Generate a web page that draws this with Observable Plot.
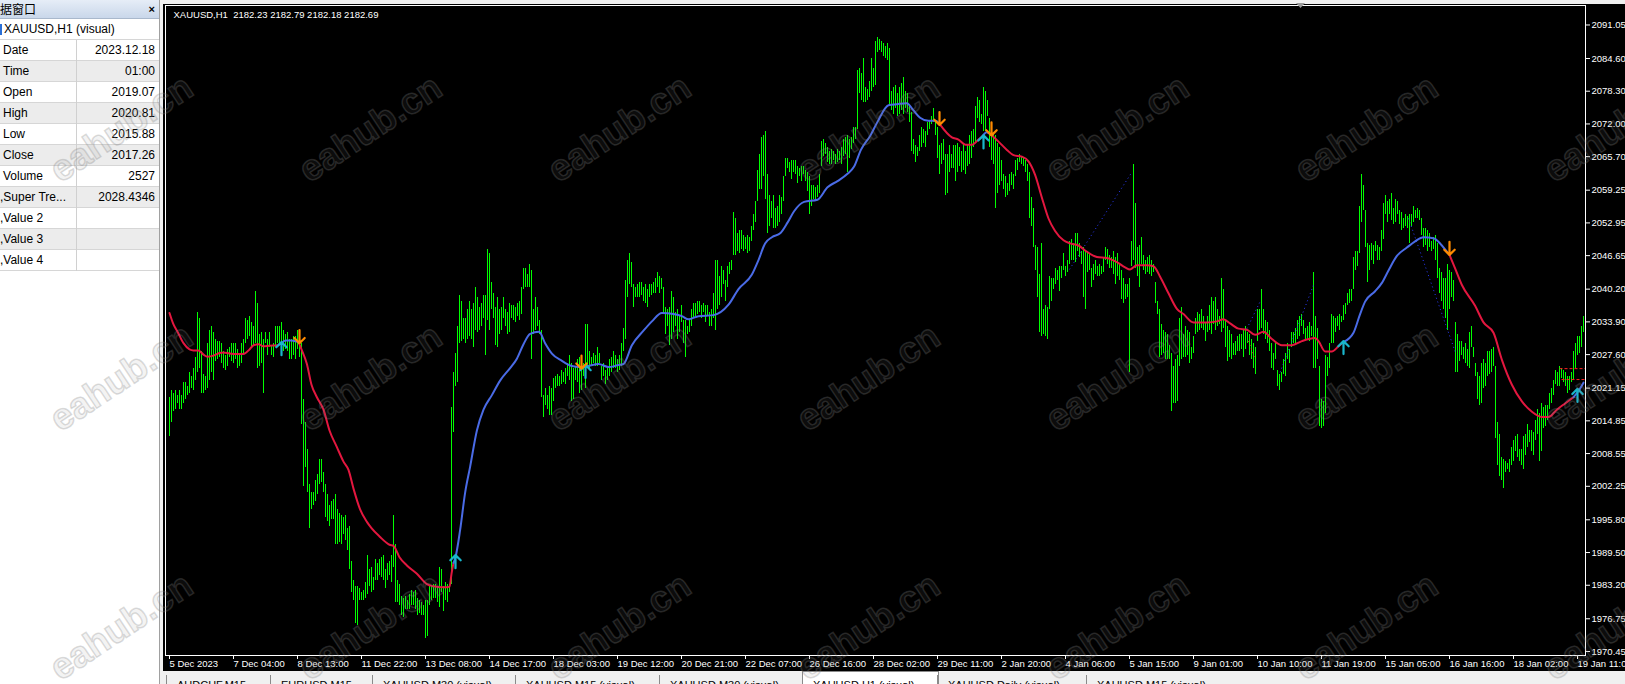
<!DOCTYPE html>
<html><head><meta charset="utf-8">
<script src="https://cdn.jsdelivr.net/npm/d3@7"></script>
<script src="https://cdn.jsdelivr.net/npm/@observablehq/plot@0.6"></script>
<style>
html,body{margin:0;padding:0;width:1625px;height:684px;overflow:hidden;background:#f0f0f0;font-family:"Liberation Sans",Arial,sans-serif;}
#panel{position:absolute;left:0;top:0;width:159px;height:684px;background:#fff;border-right:1px solid #a0a0a0;overflow:hidden;}
#hdr{position:absolute;left:0;top:0;width:159px;height:18px;background:linear-gradient(#e6edf7,#c9d7ea);border-bottom:1px solid #a9b8cc;font-family:"Noto Sans CJK SC",sans-serif;font-size:12px;line-height:18px;color:#000;}
#hdr .x{position:absolute;right:4px;top:0;font-family:"Liberation Sans",Arial;font-weight:bold;font-size:11px;}
.row{position:absolute;left:0;width:159px;height:20px;border-bottom:1px solid #d6d6d6;font-size:12px;line-height:21px;color:#000;}
.row.g{background:#ececec;}
.row .l{position:absolute;left:3px;top:0;white-space:nowrap;}
.row .v{position:absolute;right:4px;top:0;white-space:nowrap;}
.row .sep{position:absolute;left:76px;top:0;width:1px;height:21px;background:#d0d0d0;}
#chart{position:absolute;left:163px;top:4px;}
#tabs{position:absolute;left:160px;top:671px;width:1465px;height:13px;background:#f0f0f0;overflow:hidden;}
.tab{position:absolute;top:4px;height:20px;border-left:1px solid #8a8a8a;font-size:11px;color:#000;white-space:nowrap;overflow:hidden;}
.tab span{position:absolute;left:10px;top:4px;}
.tab.act{top:0;background:#fff;border:1px solid #8a8a8a;border-bottom:none;}
.tab.act span{top:7px;}
#wm{position:absolute;left:0;top:0;pointer-events:none;}
</style></head>
<body>
<div id="panel">
  <div id="hdr">据窗口<span class="x">×</span></div>
  <div id="rows"></div>
</div>
<div id="chart"></div>
<div id="tabs"></div>
<svg id="wm" width="1625" height="684"></svg>
<script>
// ---------- data window panel ----------
const panelTitle = "XAUUSD,H1 (visual)";
const panelLabels = ["Date","Time","Open","High","Low","Close","Volume",",Super Tre...",",Value 2",",Value 3",",Value 4"];
const panelValues = ["2023.12.18","01:00","2019.07","2020.81","2015.88","2017.26","2527","2028.4346","","",""];

// ---------- chart data (hourly bars, index 0 = 5 Dec 2023 00:00) ----------
const high = [
2019.4,2020.6,2020.2,2020.6,2019.8,2020.6,2019.8,2022.2,2022.2,2021.4,
2024.2,2023.4,2025.0,2027.0,2035.8,2034.6,2028.2,2023.8,2023.4,2029.8,
2032.2,2033.0,2031.8,2030.6,2030.2,2030.2,2029.8,2028.2,2027.4,2028.6,
2029.0,2029.8,2029.8,2029.8,2028.6,2027.8,2029.8,2030.6,2034.6,2034.2,
2035.0,2033.8,2033.0,2039.8,2037.4,2031.4,2031.8,2030.6,2031.8,2030.6,
2031.8,2029.4,2029.8,2033.0,2033.0,2033.0,2033.8,2032.2,2031.4,2031.8,
2030.6,2030.6,2031.0,2031.0,2032.2,2031.8,2029.8,2019.0,2014.6,2009.4,
2002.6,2001.0,2001.0,2003.4,2004.6,2007.4,2007.4,2005.0,2002.6,2000.6,
1998.6,1999.4,1999.8,2000.6,1997.8,1997.0,1996.6,1996.2,1996.6,1994.2,
1994.6,1987.8,1984.2,1983.0,1983.0,1982.6,1981.8,1982.2,1983.8,1989.0,
1986.2,1986.6,1984.6,1988.2,1987.4,1988.2,1988.6,1989.0,1986.2,1987.4,
1987.8,1989.0,1996.6,1991.0,1984.2,1983.4,1981.0,1980.6,1981.0,1980.2,
1981.4,1982.2,1981.8,1982.2,1980.6,1980.2,1979.8,1979.4,1980.2,1980.2,
1983.0,1983.0,1983.4,1983.4,1983.0,1986.6,1986.2,1983.0,1983.8,1983.4,
1983.4,2017.4,2024.2,2027.8,2033.0,2039.0,2037.8,2034.6,2034.6,2036.2,
2037.8,2036.2,2037.4,2040.6,2038.6,2036.6,2037.4,2039.0,2039.0,2047.8,
2047.0,2041.4,2039.4,2036.6,2038.6,2036.2,2036.6,2038.6,2036.2,2035.8,
2037.4,2037.0,2037.0,2036.6,2037.4,2037.8,2040.6,2044.2,2044.2,2043.0,
2045.0,2043.8,2036.2,2038.6,2036.6,2034.2,2032.2,2019.8,2021.0,2019.8,
2021.4,2021.0,2023.0,2023.4,2023.8,2023.4,2024.6,2024.2,2025.0,2025.8,
2027.4,2025.8,2025.0,2025.4,2026.6,2027.0,2026.6,2025.8,2033.4,2033.4,
2028.2,2027.0,2027.8,2027.4,2029.0,2027.8,2025.4,2025.8,2024.6,2025.0,
2026.6,2027.0,2028.2,2027.4,2026.6,2027.4,2029.8,2032.6,2041.8,2045.8,
2047.0,2045.4,2041.0,2040.6,2041.0,2041.4,2041.4,2040.6,2041.0,2040.2,
2041.0,2041.0,2041.4,2042.2,2043.4,2042.6,2042.2,2040.6,2036.6,2036.2,
2036.6,2039.8,2038.6,2035.8,2036.2,2035.0,2037.0,2034.2,2034.2,2033.0,
2034.2,2036.2,2037.4,2037.4,2037.8,2037.8,2037.0,2037.4,2037.0,2037.0,
2035.8,2036.2,2039.4,2045.8,2045.8,2042.6,2044.6,2043.8,2041.8,2044.6,
2045.4,2045.8,2055.0,2053.8,2051.0,2051.4,2051.4,2050.6,2050.2,2050.6,
2050.2,2052.2,2054.6,2057.0,2063.0,2066.2,2069.4,2069.8,2070.6,2062.2,
2058.2,2057.0,2058.2,2055.8,2056.2,2058.2,2057.8,2061.8,2065.4,2065.4,
2064.6,2065.0,2065.0,2065.0,2063.8,2063.4,2063.8,2063.8,2063.0,2062.6,
2061.8,2060.2,2060.2,2059.8,2060.2,2062.2,2068.6,2069.0,2068.2,2067.4,
2066.6,2067.0,2066.6,2066.2,2067.0,2066.6,2067.4,2069.0,2069.4,2069.8,
2069.0,2069.4,2071.4,2071.4,2082.2,2082.6,2081.8,2084.6,2079.0,2078.6,
2080.2,2084.6,2082.6,2087.8,2088.6,2088.2,2087.8,2087.4,2087.0,2087.4,
2086.6,2078.2,2079.0,2079.4,2077.8,2079.0,2079.8,2081.0,2078.2,2077.8,
2075.8,2074.2,2069.0,2067.8,2067.4,2069.8,2071.4,2071.0,2070.6,2072.2,
2072.6,2073.4,2075.0,2072.6,2071.4,2067.8,2068.2,2069.0,2066.2,2066.2,
2067.8,2066.2,2067.8,2067.8,2068.2,2067.4,2066.6,2068.2,2066.6,2067.8,
2069.8,2070.6,2071.0,2075.4,2077.0,2076.6,2073.8,2079.0,2078.2,2076.6,
2073.0,2070.6,2070.2,2069.8,2068.2,2067.4,2065.0,2062.2,2061.8,2060.6,
2062.2,2062.6,2062.2,2065.0,2065.4,2066.2,2065.8,2065.4,2065.0,2064.2,
2062.6,2057.8,2055.8,2048.6,2048.2,2043.0,2049.0,2036.2,2037.0,2036.6,
2042.6,2042.2,2042.2,2044.2,2043.8,2044.6,2044.6,2047.0,2044.6,2045.8,
2049.4,2049.8,2049.0,2051.0,2051.0,2049.0,2047.4,2048.2,2047.4,2047.4,
2047.0,2044.2,2045.0,2045.8,2044.6,2045.0,2044.6,2046.2,2048.2,2047.8,
2046.6,2046.2,2047.4,2046.2,2047.0,2045.0,2043.8,2042.2,2041.0,2041.0,
2042.2,2049.4,2064.2,2056.6,2048.2,2048.6,2050.2,2046.6,2045.8,2046.2,
2046.6,2045.8,2045.0,2041.4,2037.8,2036.2,2033.4,2032.2,2031.8,2031.4,
2029.4,2027.8,2025.4,2026.6,2027.4,2034.6,2036.6,2031.4,2033.0,2032.2,
2031.8,2029.0,2031.0,2034.6,2035.8,2035.4,2036.2,2035.0,2033.8,2035.0,
2037.0,2038.6,2037.8,2038.6,2036.2,2035.0,2042.2,2040.2,2034.2,2033.0,
2032.2,2031.4,2029.8,2030.2,2031.0,2031.4,2031.4,2032.2,2033.0,2031.8,
2031.4,2030.6,2029.8,2029.0,2036.2,2036.2,2040.2,2036.2,2034.2,2033.8,
2032.2,2029.8,2027.8,2029.8,2024.6,2023.8,2024.2,2026.6,2027.8,2029.8,
2028.6,2031.8,2031.8,2032.6,2034.2,2035.0,2035.4,2034.2,2032.6,2033.0,
2033.8,2033.0,2043.4,2035.0,2032.6,2025.4,2019.0,2018.6,2027.4,2027.0,
2029.8,2035.4,2035.0,2034.6,2035.0,2035.4,2035.0,2037.0,2037.4,2039.4,
2040.2,2040.2,2046.2,2047.4,2047.4,2056.2,2062.2,2060.2,2055.4,2049.0,
2048.6,2049.0,2048.6,2049.4,2048.6,2048.2,2051.4,2056.6,2058.2,2057.0,
2057.4,2058.6,2055.8,2057.4,2057.0,2055.4,2055.0,2053.8,2054.6,2054.2,
2054.6,2054.6,2056.2,2055.4,2055.8,2055.4,2053.8,2051.8,2051.8,2051.4,
2051.0,2049.4,2050.2,2050.6,2049.0,2044.2,2043.4,2042.2,2042.2,2045.0,
2043.8,2043.4,2041.8,2033.8,2031.4,2030.2,2030.2,2029.0,2029.8,2028.6,
2031.8,2033.0,2029.0,2025.8,2024.2,2023.4,2025.8,2026.6,2025.8,2028.2,
2028.2,2028.6,2029.0,2025.4,2014.6,2012.2,2007.8,2007.4,2007.0,2006.6,
2007.4,2009.8,2011.0,2011.8,2012.2,2009.4,2009.4,2011.8,2012.2,2014.2,
2013.0,2013.0,2012.6,2015.0,2017.0,2016.2,2018.2,2017.4,2017.8,2017.8,
2020.2,2021.0,2022.6,2024.6,2024.2,2025.4,2025.0,2024.6,2024.2,2023.4,
2023.4,2024.2,2028.2,2029.8,2031.0,2031.0,2033.0,2035.0];
const low = [
2011.8,2014.6,2016.6,2017.0,2018.2,2017.0,2017.0,2018.2,2019.0,2019.8,
2020.2,2021.0,2020.6,2022.6,2024.2,2025.0,2020.2,2020.2,2020.6,2021.0,
2022.6,2024.2,2022.6,2026.2,2026.6,2027.0,2025.8,2025.0,2024.6,2025.4,
2027.0,2026.2,2025.8,2026.6,2025.0,2025.4,2025.8,2027.4,2029.8,2030.6,
2031.0,2029.0,2029.4,2029.8,2025.0,2025.4,2025.8,2020.2,2029.8,2027.4,
2029.0,2027.4,2027.0,2029.0,2029.8,2029.8,2029.8,2028.2,2028.6,2028.2,
2026.6,2026.6,2027.4,2026.6,2028.6,2027.0,2014.2,2002.2,2005.8,2001.0,
1994.2,1997.8,1998.6,1999.4,2000.6,2002.6,2003.0,2001.0,1996.2,1995.4,
1994.6,1995.8,1995.8,1991.0,1991.0,1991.4,1991.0,1993.0,1991.8,1989.8,
1986.2,1981.8,1980.2,1975.8,1975.4,1980.2,1980.2,1980.2,1980.6,1981.4,
1983.0,1981.8,1982.2,1984.2,1984.2,1985.0,1984.6,1984.2,1982.6,1984.2,
1985.0,1983.8,1986.6,1979.8,1979.8,1979.4,1977.4,1977.0,1978.6,1978.6,
1978.6,1979.4,1979.4,1978.6,1977.4,1977.8,1977.4,1977.4,1973.0,1973.4,
1979.4,1980.2,1980.6,1980.6,1979.8,1979.0,1981.8,1978.2,1980.2,1979.8,
1981.8,1983.4,2012.6,2021.4,2022.2,2029.8,2030.2,2030.6,2029.8,2030.6,
2031.0,2030.6,2029.0,2032.2,2031.8,2032.2,2033.0,2034.6,2027.4,2034.2,
2032.2,2036.2,2034.6,2029.4,2029.0,2031.4,2032.2,2034.6,2033.0,2031.4,
2031.8,2034.6,2034.2,2033.8,2035.0,2034.2,2035.4,2040.2,2040.6,2040.6,
2040.6,2026.6,2031.4,2032.2,2033.0,2031.4,2019.4,2015.4,2017.8,2017.0,
2015.8,2015.8,2018.6,2021.0,2021.4,2021.4,2021.8,2022.2,2021.8,2023.4,
2022.6,2018.6,2019.0,2022.6,2022.2,2020.2,2020.6,2023.4,2021.0,2025.0,
2025.0,2025.4,2025.8,2025.4,2025.4,2025.8,2022.6,2023.4,2021.8,2022.6,
2023.4,2024.2,2025.0,2025.0,2024.2,2024.6,2025.4,2028.2,2030.6,2038.6,
2041.0,2040.6,2036.6,2038.6,2038.6,2038.6,2039.0,2037.8,2037.4,2036.6,
2038.6,2039.0,2039.4,2039.4,2040.6,2039.4,2040.2,2035.4,2031.4,2033.0,
2029.4,2030.6,2031.8,2033.0,2030.6,2031.8,2033.8,2029.8,2027.0,2031.4,
2031.8,2033.0,2034.6,2035.0,2035.4,2035.8,2034.6,2035.8,2033.8,2035.0,
2033.0,2033.0,2034.6,2032.2,2036.2,2037.0,2038.6,2041.0,2037.8,2040.6,
2043.0,2043.8,2046.6,2046.6,2047.4,2047.0,2047.8,2047.4,2047.8,2047.0,
2047.4,2049.4,2051.4,2053.0,2057.0,2059.4,2059.4,2061.8,2057.4,2051.0,
2052.2,2053.8,2051.8,2051.8,2052.2,2053.0,2054.6,2057.0,2061.8,2063.4,
2062.6,2061.4,2062.6,2062.2,2060.6,2061.8,2061.0,2062.2,2061.0,2059.0,
2054.6,2056.2,2057.4,2057.0,2057.8,2058.6,2063.8,2065.8,2066.2,2064.6,
2064.2,2064.2,2065.0,2064.2,2064.6,2065.0,2064.2,2065.8,2066.2,2062.6,
2065.4,2067.0,2068.2,2069.0,2071.0,2077.8,2076.6,2076.2,2076.2,2076.6,
2077.0,2078.2,2079.0,2079.4,2085.8,2086.2,2085.8,2085.0,2084.6,2084.2,
2075.8,2074.6,2073.8,2075.0,2073.4,2073.8,2074.6,2073.8,2075.0,2074.2,
2072.2,2066.6,2066.2,2064.6,2065.8,2066.6,2067.4,2068.2,2067.4,2069.8,
2071.0,2071.8,2072.2,2069.8,2065.4,2062.2,2064.2,2065.0,2058.2,2058.6,
2062.6,2063.4,2063.4,2061.0,2062.6,2063.8,2062.6,2063.0,2062.2,2063.8,
2064.2,2065.4,2067.4,2068.2,2073.0,2072.2,2071.8,2070.6,2070.6,2073.4,
2067.4,2065.0,2064.2,2055.8,2058.6,2060.2,2061.0,2059.4,2057.8,2058.2,
2059.0,2060.2,2059.4,2061.8,2063.0,2064.6,2064.2,2063.8,2062.6,2061.0,
2053.8,2052.2,2048.2,2043.8,2038.6,2031.8,2031.0,2031.4,2031.0,2030.6,
2036.2,2037.8,2040.2,2041.0,2041.8,2039.8,2042.2,2043.8,2042.6,2043.4,
2045.0,2045.8,2045.8,2045.4,2047.4,2046.2,2045.0,2038.6,2036.2,2043.4,
2043.8,2040.6,2041.8,2043.0,2042.6,2042.6,2043.0,2043.4,2045.8,2045.0,
2044.2,2044.2,2043.0,2041.0,2042.6,2041.8,2038.2,2037.4,2038.2,2038.6,
2024.2,2044.6,2045.8,2044.2,2042.6,2040.6,2045.0,2043.8,2043.0,2043.4,
2043.0,2042.6,2043.4,2037.4,2035.4,2027.0,2027.4,2027.8,2026.6,2026.6,
2026.6,2016.6,2018.2,2018.2,2018.6,2025.4,2026.6,2027.0,2027.0,2027.4,
2025.8,2026.6,2027.8,2031.4,2031.8,2032.2,2032.6,2032.2,2030.2,2031.8,
2032.2,2031.4,2033.4,2032.2,2033.0,2033.4,2031.8,2032.6,2029.0,2026.2,
2027.0,2026.6,2027.4,2027.4,2028.2,2028.2,2028.6,2027.0,2028.6,2029.8,
2027.4,2026.6,2025.0,2023.8,2030.2,2032.2,2032.6,2031.4,2030.6,2029.8,
2028.2,2025.0,2024.6,2026.6,2021.4,2020.6,2022.2,2023.8,2023.4,2026.6,
2025.8,2029.0,2029.8,2029.4,2030.6,2031.0,2033.0,2031.4,2030.6,2030.6,
2030.2,2031.0,2025.0,2025.0,2026.6,2013.8,2013.4,2013.8,2016.2,2023.4,
2025.0,2029.8,2029.8,2031.8,2033.0,2032.2,2033.8,2034.2,2035.4,2037.0,
2037.4,2037.8,2040.2,2043.8,2044.6,2047.0,2053.0,2055.4,2048.2,2041.4,
2043.8,2045.8,2045.0,2047.4,2045.8,2045.8,2047.4,2049.8,2054.6,2053.0,
2054.6,2053.4,2052.6,2053.0,2054.6,2052.6,2051.4,2051.8,2052.2,2051.8,
2049.0,2052.2,2053.0,2053.8,2053.8,2053.4,2050.6,2048.2,2048.6,2047.4,
2048.2,2047.4,2047.8,2045.8,2042.2,2039.4,2037.8,2036.2,2034.6,2032.2,
2036.2,2038.6,2037.8,2024.2,2024.2,2026.2,2027.4,2026.6,2025.8,2025.4,
2025.0,2029.0,2027.0,2023.4,2019.0,2017.8,2018.2,2021.0,2021.4,2023.4,
2023.8,2024.2,2025.4,2011.4,2006.2,2004.2,2003.4,2001.8,2005.0,2005.4,
2005.0,2006.2,2007.0,2009.0,2007.8,2007.0,2006.2,2005.4,2008.2,2009.8,
2010.6,2009.0,2008.2,2011.0,2012.2,2007.0,2009.0,2013.4,2013.8,2015.0,
2017.0,2018.2,2019.8,2021.8,2021.4,2021.4,2023.0,2022.2,2021.4,2020.2,
2020.6,2022.2,2022.6,2025.0,2027.4,2027.8,2029.0,2031.8];

// Super Trend line segments: [bar index, value]
const stSegments = [
 {trend:"down", pts:[[0,2035.6],[2,2033.4],[4,2032.0],[7,2029.8],[10,2028.6],[12,2028.4],[14.5,2028.4],[17,2027.6],[19,2027.2],[22,2027.4],[25,2027.9],[27,2028.0],[30,2027.8],[34,2027.7],[37,2027.7],[40,2028.6],[42,2029.4],[44.5,2029.6],[47,2029.2],[50,2029.3],[54,2029.4],[56,2029.8]]},
 {trend:"up", pts:[[56,2029.8],[58,2030.3],[61,2030.3],[64.5,2030.0]]},
 {trend:"down", pts:[[64.5,2030.0],[66,2028.6],[68.7,2025.8],[71,2021.8],[73.7,2019.4],[77,2017.0],[80,2013.0],[83.7,2009.8],[87,2007.0],[89.5,2005.4],[92,2001.8],[95.3,1997.8],[98.7,1995.4],[101,1994.2],[105,1992.6],[110,1991.0],[112,1990.8],[115,1988.6],[118.7,1987.0],[123.7,1985.4],[128.7,1983.4],[132,1983.0],[137,1982.8],[140,1982.9],[141,1985.4],[142,1987.5]]},
 {trend:"up", pts:[[142,1987.5],[143,1988.6],[145.3,1993.8],[147.8,2001.0],[150.3,2006.0],[153.7,2013.0],[157,2017.0],[161.2,2019.8],[165.3,2022.6],[170.3,2025.0],[173.7,2026.8],[177,2029.6],[180.3,2031.6],[184.8,2032.0],[187.8,2029.8],[191.2,2027.8],[196.2,2026.4],[201.2,2025.4],[205.3,2025.2],[209.5,2025.4],[214.5,2025.8],[219.5,2025.2],[224.5,2025.6],[227,2025.8],[231.2,2029.4],[237,2032.2],[241.2,2034.0],[246.2,2035.6],[252,2035.4],[256.2,2035.0],[259.5,2034.4],[264.5,2035.0],[272,2035.2],[279.5,2037.2],[284.5,2040.2],[291.2,2043.0],[294.5,2045.8],[297.8,2049.0],[301.2,2050.2],[305.5,2051.0],[309,2053.0],[312.3,2055.2],[317.3,2057.0],[324,2057.4],[329,2059.8],[334,2061.0],[339,2062.4],[342.3,2063.8],[345.7,2067.0],[350.5,2069.8],[354,2072.4],[359.5,2075.6],[363.7,2075.8],[368.7,2076.0],[372,2074.6],[375.3,2073.2],[379.5,2072.6],[383,2072.6],[385,2072.0]]},
 {trend:"down", pts:[[385,2072.0],[391.2,2069.4],[394.5,2069.0],[398,2068.0],[401.3,2068.0],[404.5,2069.0],[407,2069.8]]},
 {trend:"up", pts:[[406.5,2069.6],[408.5,2070.4],[410.5,2070.0]]},
 {trend:"down", pts:[[410.5,2070.0],[414.5,2068.6],[418.7,2067.0],[422,2066.0],[426.2,2065.7],[429.5,2064.8],[432.8,2062.2],[436.2,2057.8],[439.5,2053.8],[442.8,2051.4],[447,2049.6],[450.3,2049.0],[454.5,2048.6],[458.7,2047.4],[463.7,2046.4],[468.7,2046.2],[473.7,2045.4],[477.8,2044.4],[480.3,2044.0],[483.7,2044.8],[488.7,2044.8],[492,2044.6],[495.3,2042.6],[499.5,2039.4],[503.7,2036.4],[507,2035.4],[512,2033.8],[518.7,2033.8],[523.7,2034.0],[527,2034.4],[530.3,2033.6],[534.5,2032.6],[538.7,2032.4],[542.8,2031.4],[547,2032.0],[551.2,2030.6],[556.2,2029.4],[561.2,2029.4],[566.2,2030.2],[572.8,2030.8],[574.5,2030.2],[577.8,2028.2],[581.2,2028.2],[584.5,2029.2],[587,2030.0]]},
 {trend:"up", pts:[[587,2030.0],[592,2031.8],[595.3,2035.4],[597.8,2037.8],[602.8,2039.8],[606.2,2041.4],[609.5,2043.8],[613.7,2046.6],[618.7,2048.2],[622.8,2049.4],[627,2050.2],[632,2050.0],[635.3,2049.0],[638.7,2047.4],[640,2046.8]]},
 {trend:"down", pts:[[640,2046.8],[642.8,2044.2],[646.2,2041.0],[652.8,2037.0],[657,2033.8],[662,2031.8],[666.2,2026.6],[671.2,2021.8],[676.2,2018.6],[681.2,2016.6],[686.2,2015.6],[689.5,2015.6],[693.7,2017.0],[697.8,2018.2],[702,2019.4]]},
 {trend:"up", pts:[[702,2019.4],[704.5,2020.6],[707,2022.2]]}
];
// signal arrows [bar index, price at arrow tip]
const upArrows = [[56,2030.0],[143,1989.0],[208,2025.6],[407,2069.8],[587,2030.2],[704,2021.0]];
const downArrows = [[65,2029.8],[206,2024.9],[385,2071.8],[411,2069.8],[640,2046.8]];
// thin dotted trend lines [i1, p1, i2, p2]
const blueDots = [[450,2044.0,481,2062.6],[538.7,2032.6,545.3,2037.8],[555.3,2024.2,572,2041.0],[619.5,2053.8,642.8,2028.2]];
const redDots = [[539.5,2030.2,542.5,2027.0]];
const redDashes = [[695,2024.9,708,2024.9],[696,2022.8,708,2022.8]];

const yTicks = [2091.05,2084.60,2078.30,2072.00,2065.70,2059.25,2052.95,2046.65,2040.20,2033.90,2027.60,2021.15,2014.85,2008.55,2002.25,1995.80,1989.50,1983.20,1976.75,1970.45];
const xTickIdx = [0,32,64,96,128,160,192,224,256,288,320,352,384,416,448,480,512,544,576,608,640,672,704];
const xTickLabels = ["5 Dec 2023","7 Dec 04:00","8 Dec 13:00","11 Dec 22:00","13 Dec 08:00","14 Dec 17:00","18 Dec 03:00","19 Dec 12:00","20 Dec 21:00","22 Dec 07:00","26 Dec 16:00","28 Dec 02:00","29 Dec 11:00","2 Jan 20:00","4 Jan 06:00","5 Jan 15:00","9 Jan 01:00","10 Jan 10:00","11 Jan 19:00","15 Jan 05:00","16 Jan 16:00","18 Jan 02:00","19 Jan 11:00"];
const headerText = "XAUUSD,H1  2182.23 2182.79 2182.18 2182.69";
const tabLabels = ["AUDCHF,M15","EURUSD,M15","XAUUSD,M30 (visual)","XAUUSD,M15 (visual)","XAUUSD,M30 (visual)","XAUUSD,H1 (visual)","XAUUSD,Daily (visual)","XAUUSD,M15 (visual)"];
const tabEdges = [166,270,372,515,659,802,937,1086,1230];
const activeTab = 5;

// ---------- panel ----------
const rows = document.getElementById("rows");
{
  const r = document.createElement("div");
  r.className = "row"; r.style.top = "19px";
  r.innerHTML = '<div style="position:absolute;left:0;top:5px;width:2px;height:11px;background:#2a6fd6"></div><span class="l" style="left:4px">' + panelTitle + '</span>';
  rows.appendChild(r);
}
panelLabels.forEach((lab, k) => {
  const r = document.createElement("div");
  r.className = "row" + (k % 2 === 1 ? " g" : "");
  r.style.top = (40 + 21 * k) + "px";
  const left = lab.startsWith(",") ? 0 : 3;
  r.innerHTML = '<span class="l" style="left:' + left + 'px">' + lab + '</span><div class="sep"></div><span class="v">' + panelValues[k] + '</span>';
  rows.appendChild(r);
});

// ---------- tabs ----------
const tabs = document.getElementById("tabs");
tabLabels.forEach((t, k) => {
  const d = document.createElement("div");
  d.className = "tab" + (k === activeTab ? " act" : "");
  d.style.left = (tabEdges[k] - 160) + "px";
  d.style.width = (tabEdges[k + 1] - tabEdges[k]) + "px";
  d.innerHTML = "<span>" + t + "</span>";
  tabs.appendChild(d);
});

// ---------- chart ----------
const bars = high.map((h, i) => ({i, high: h, low: low[i]}));
const stUp = [], stDown = [];
stSegments.forEach((s, k) => s.pts.forEach(([i, v]) => (s.trend === "up" ? stUp : stDown).push({i, v, seg: k})));
const toLink = a => a.map(([i1, p1, i2, p2]) => ({i1, p1, i2, p2}));
const xLabel = new Map(xTickIdx.map((d, k) => [d, xTickLabels[k]]));

const chart = Plot.plot({
  width: 1462, height: 667,
  marginLeft: 2, marginTop: 1, marginRight: 40, marginBottom: 16,
  x: {type: "linear", domain: [-2, 708]},
  y: {domain: [1969.68, 2094.80]},
  style: {background: "#000", color: "#fff", fontFamily: "'Liberation Sans', Arial, sans-serif", fontSize: "9.5px", overflow: "visible"},
  marks: [
    Plot.ruleX(bars, {x: "i", y1: "low", y2: "high", stroke: "#00ff00", strokeWidth: 1, shapeRendering: "crispEdges"}),
    Plot.link(toLink(blueDots), {x1: "i1", y1: "p1", x2: "i2", y2: "p2", stroke: "#2b3bff", strokeWidth: 1, strokeDasharray: "1,3"}),
    Plot.link(toLink(redDots), {x1: "i1", y1: "p1", x2: "i2", y2: "p2", stroke: "#ff2020", strokeWidth: 1, strokeDasharray: "1,3"}),
    Plot.link(toLink(redDashes), {x1: "i1", y1: "p1", x2: "i2", y2: "p2", stroke: "#ff2020", strokeWidth: 1, strokeDasharray: "3,2"}),
    Plot.line(stDown, {x: "i", y: "v", z: "seg", stroke: "#e3173f", strokeWidth: 2, curve: "monotone-x"}),
    Plot.line(stUp, {x: "i", y: "v", z: "seg", stroke: "#4a6be6", strokeWidth: 2, curve: "monotone-x"}),
    Plot.vector(upArrows, {x: d => d[0], y: d => d[1], length: 13, rotate: 0, anchor: "end", r: 7, stroke: "#19b6cc", strokeWidth: 2.2}),
    Plot.vector(downArrows, {x: d => d[0], y: d => d[1], length: 13, rotate: 180, anchor: "end", r: 7, stroke: "#ff8a00", strokeWidth: 2.2}),
    Plot.frame({stroke: "#fff"}),
    Plot.axisY({anchor: "right", ticks: yTicks, tickFormat: d => d.toFixed(2), tickSize: 4, tickPadding: 2, stroke: "#fff", fill: "#fff", label: null}),
    Plot.axisX({anchor: "bottom", ticks: xTickIdx, tickFormat: d => xLabel.get(d), tickSize: 4, tickPadding: 1, textAnchor: "start", stroke: "#fff", fill: "#fff", label: null}),
    Plot.text([headerText], {text: d => d, frameAnchor: "top-left", textAnchor: "start", lineAnchor: "middle", dx: 8, dy: 9, fill: "#fff", fontSize: 9.5})
  ]
});
document.getElementById("chart").appendChild(chart);

// ---------- watermark overlay ----------
const wm = document.getElementById("wm");
const NS = "http://www.w3.org/2000/svg";
for (let c = 0; c < 7; c++) for (let r = 0; r < 3; r++) {
  const t = document.createElementNS(NS, "text");
  t.setAttribute("transform", `translate(${122.5 + 249 * c},${130.5 + 249 * r}) rotate(-33.6)`);
  t.setAttribute("text-anchor", "middle");
  t.setAttribute("dominant-baseline", "middle");
  t.setAttribute("font-family", "Liberation Sans, Arial, sans-serif");
  t.setAttribute("font-weight", "bold");
  t.setAttribute("font-size", "37");
  t.setAttribute("fill", "rgba(128,128,128,0.10)");
  t.setAttribute("stroke", "rgba(128,128,128,0.28)");
  t.setAttribute("stroke-width", "1.5");
  t.textContent = "eahub.cn";
  wm.appendChild(t);
}
const tri = document.createElementNS(NS, "path");
tri.setAttribute("d", "M1296,3 L1305,3 L1300.5,8 Z");
tri.setAttribute("fill", "#9a9a9a");
wm.appendChild(tri);
</script>
</body></html>
